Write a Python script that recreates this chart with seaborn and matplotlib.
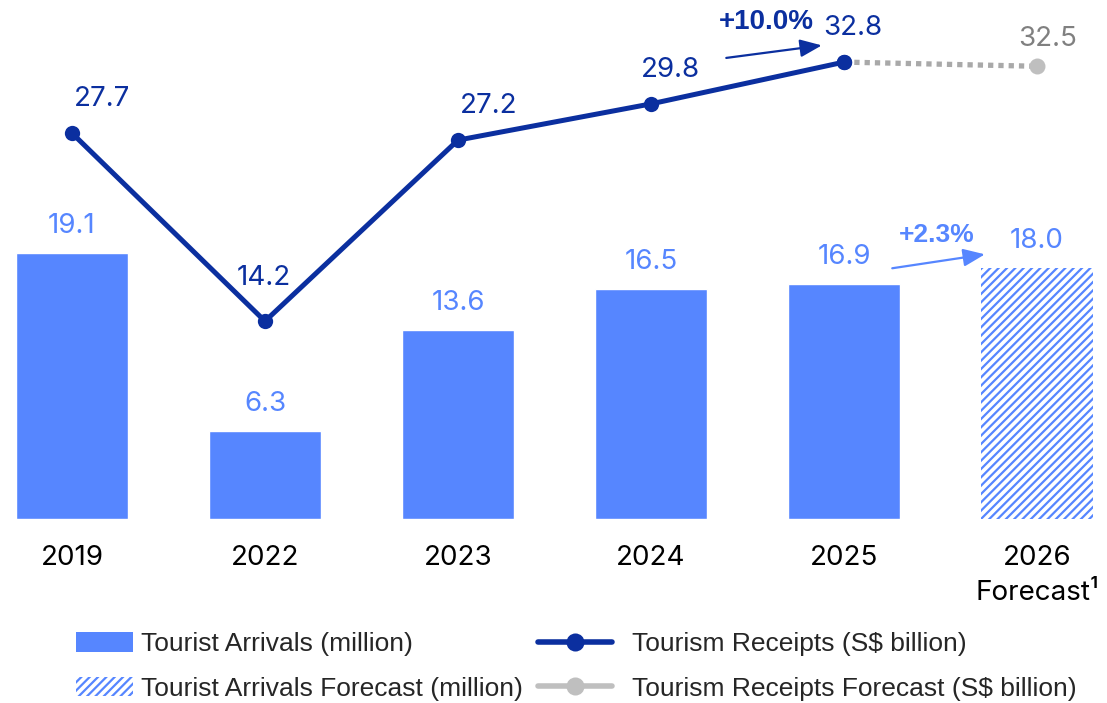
import numpy as np
import pandas as pd
import matplotlib
matplotlib.use("Agg")
import matplotlib.pyplot as plt
from matplotlib.patches import Patch
from matplotlib.lines import Line2D
import seaborn as sns

# Data
years = ["2019", "2022", "2023", "2024", "2025", "2026\nForecast\u00b9"]
arrivals = [19.1, 6.3, 13.6, 16.5, 16.9, 18.0]          # million
receipts = [27.7, 14.2, 27.2, 29.8, 32.8]               # S$ billion (actual)
receipts_forecast = [32.8, 32.5]                        # 2025 -> 2026 forecast
arrivals_growth = "+2.3%"
receipts_growth = "+10.0%"

BAR = "#5686FF"
NAVY = "#0B2F9F"
GREY_LINE = "#A9A9A9"
GREY_DOT = "#BFBFBF"
GREY_TXT = "#808080"

sns.set_theme(style="white")
plt.rcParams["font.family"] = ["Inter", "DejaVu Sans"]
plt.rcParams["hatch.linewidth"] = 1.6

fig = plt.figure(figsize=(11.07, 7.03), dpi=100)
ax = fig.add_axes([0, 184 / 703, 1, 519 / 703])

df = pd.DataFrame({"year": years, "arrivals": arrivals})
sns.barplot(data=df, x="year", y="arrivals", color=BAR, saturation=1,
            width=0.585, ax=ax, zorder=2)

# Forecast bar: hatched
fc_bar = ax.patches[-1]
fc_bar.set_facecolor("white")
fc_bar.set_edgecolor(BAR)
fc_bar.set_hatch("////")
fc_bar.set_linewidth(0)

# Receipts line
xs = np.arange(len(receipts))
sns.lineplot(x=xs, y=receipts, color=NAVY, linewidth=3.6, marker="o",
             markersize=11, markeredgewidth=0, ax=ax, zorder=4)
# Forecast segment
xf = np.array([len(receipts) - 1, len(receipts)])
ax.plot(xf, receipts_forecast, color=GREY_LINE, linewidth=3.8,
        linestyle=(0, (1.0, 0.95)), zorder=3)
ax.plot(xf[1:], receipts_forecast[1:], "o", color=GREY_DOT, markersize=11.5,
        markeredgewidth=0, zorder=3)
ax.plot(xf[:1], receipts_forecast[:1], "o", color=NAVY, markersize=11,
        markeredgewidth=0, zorder=5)

ax.set_xlim(-72 / 193, (1107 - 72) / 193)
ax.set_ylim(0, 519 / 13.93)

# Bar value labels
for i, v in enumerate(arrivals):
    ax.annotate(f"{v:.1f}", (i, v), xytext=(0, 10), textcoords="offset points",
                ha="center", va="bottom", fontsize=20, color=BAR)

# Line value labels
line_offsets = [(22, 15), (-1, 22), (22, 15), (14, 15), (6, 15)]
for i, v in enumerate(receipts):
    dx, dy = line_offsets[i]
    ax.annotate(f"{v:.1f}", (i, v), xytext=(dx, dy), textcoords="offset points",
                ha="center", va="bottom", fontsize=20, color=NAVY)
ax.annotate(f"{receipts_forecast[1]:.1f}", (len(receipts), receipts_forecast[1]),
            xytext=(8, 10), textcoords="offset points", ha="center",
            va="bottom", fontsize=20, color=GREY_TXT)

# Growth arrows
arrow_style = "-|>,head_length=1.1,head_width=0.45"
i25 = len(receipts) - 1
ax.annotate("", xy=(i25 - 0.115, receipts[-1] + 1.2),
            xytext=(i25 - 0.61, receipts[-1] + 0.3),
            arrowprops=dict(arrowstyle=arrow_style, color=NAVY, lw=1.6,
                            shrinkA=0, shrinkB=0))
ax.text(i25 - 0.4, receipts[-1] + 2.9, receipts_growth, ha="center",
        va="center", fontsize=20, fontweight="bold", color=NAVY,
        family=["Liberation Sans", "DejaVu Sans"])

ax.annotate("", xy=(i25 + 0.73, arrivals[-2] + 2.1),
            xytext=(i25 + 0.25, arrivals[-2] + 1.1),
            arrowprops=dict(arrowstyle=arrow_style, color=BAR, lw=1.6,
                            shrinkA=0, shrinkB=0))
ax.text(i25 + 0.48, arrivals[-2] + 3.5, arrivals_growth, ha="center",
        va="center", fontsize=19, fontweight="bold", color=BAR,
        family=["Liberation Sans", "DejaVu Sans"])

# Axes styling
ax.set_xticks(range(len(years)))
ax.set_xticklabels(years, fontsize=20, color="black", linespacing=1.42)
ax.tick_params(axis="x", length=0, pad=19)
ax.set_yticks([])
ax.set_xlabel("")
ax.set_ylabel("")
for s in ax.spines.values():
    s.set_visible(False)
ax.grid(False)

# Legends
leg_font = dict(family=["Liberation Sans", "DejaVu Sans"], size=19)
bar_handles = [Patch(facecolor=BAR, edgecolor=BAR, linewidth=0),
               Patch(facecolor="white", edgecolor=BAR, hatch="////", linewidth=0)]
fig.legend(bar_handles,
           ["Tourist Arrivals (million)", "Tourist Arrivals Forecast (million)"],
           loc="upper left", bbox_to_anchor=(76 / 1107, 1 - 632 / 703),
           frameon=False, prop=leg_font, handlelength=2.16,
           handleheight=0.76, handletextpad=0.3, labelspacing=0.78,
           borderpad=0, borderaxespad=0)
line_handles = [Line2D([], [], color=NAVY, lw=4, marker="o", markersize=13,
                       markeredgewidth=0),
                Line2D([], [], color=GREY_DOT, lw=4, marker="o", markersize=13,
                       markeredgewidth=0)]
fig.legend(line_handles,
           ["Tourism Receipts (S$ billion)", "Tourism Receipts Forecast (S$ billion)"],
           loc="upper left", bbox_to_anchor=(538 / 1107, 1 - 632 / 703),
           frameon=False, prop=leg_font, handlelength=2.8,
           handletextpad=0.75, labelspacing=0.78, borderpad=0,
           borderaxespad=0)

fig.savefig("out.png", dpi=100)
